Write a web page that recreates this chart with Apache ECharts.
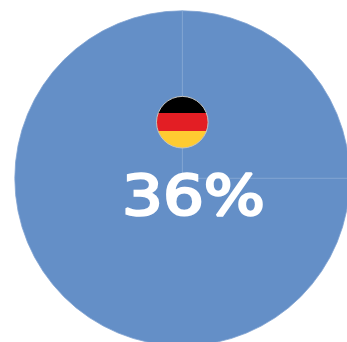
<!DOCTYPE html>
<html>
<head>
<meta charset="utf-8">
<style>html,body{margin:0;padding:0;background:#fff;overflow:hidden}#chart{width:347px;height:342px}</style>
<script src="https://cdn.jsdelivr.net/npm/echarts@6/dist/echarts.min.js"></script>
</head>
<body>
<div id="chart"></div>
<script>
// Two equal-coloured pie slices with a faint seam, plus the country badge and headline share.
const sliceNames = ['A', 'B'];
const sliceValues = [25, 75];
const headline = '36%';
const flagBands = ['#000000', '#e31e24', '#ffcb31'];

const chart = echarts.init(document.getElementById('chart'), null, { renderer: 'canvas' });

const flagFill = new echarts.graphic.LinearGradient(0, 0, 0, 1, [
  { offset: 0, color: flagBands[0] },
  { offset: 0.32, color: flagBands[0] },
  { offset: 0.32, color: flagBands[1] },
  { offset: 0.665, color: flagBands[1] },
  { offset: 0.665, color: flagBands[2] },
  { offset: 1, color: flagBands[2] }
]);

chart.setOption({
  animation: false,
  backgroundColor: '#ffffff',
  series: [{
    type: 'pie',
    center: [182.3, 178.3],
    radius: [0, 167.5],
    startAngle: 90,
    clockwise: true,
    silent: true,
    label: { show: false },
    labelLine: { show: false },
    itemStyle: { color: '#648fc7', borderColor: '#82a3d2', borderWidth: 0.8 },
    data: sliceNames.map((name, i) => ({ name, value: sliceValues[i] }))
  }],
  graphic: [
    {
      type: 'circle',
      shape: { cx: 182.3, cy: 122.2, r: 25.8 },
      style: { fill: flagFill, stroke: '#c4c4c0', lineWidth: 1 },
      z: 10
    },
    {
      type: 'text',
      x: 193.5,
      y: 199.5,
      scaleX: 1.17,
      style: {
        text: headline,
        fill: '#ffffff',
        stroke: '#ffffff',
        lineWidth: 2.4,
        font: '55px "DejaVu Sans"',
        align: 'center',
        verticalAlign: 'middle'
      },
      z: 10
    }
  ]
});
</script>
</body>
</html>
